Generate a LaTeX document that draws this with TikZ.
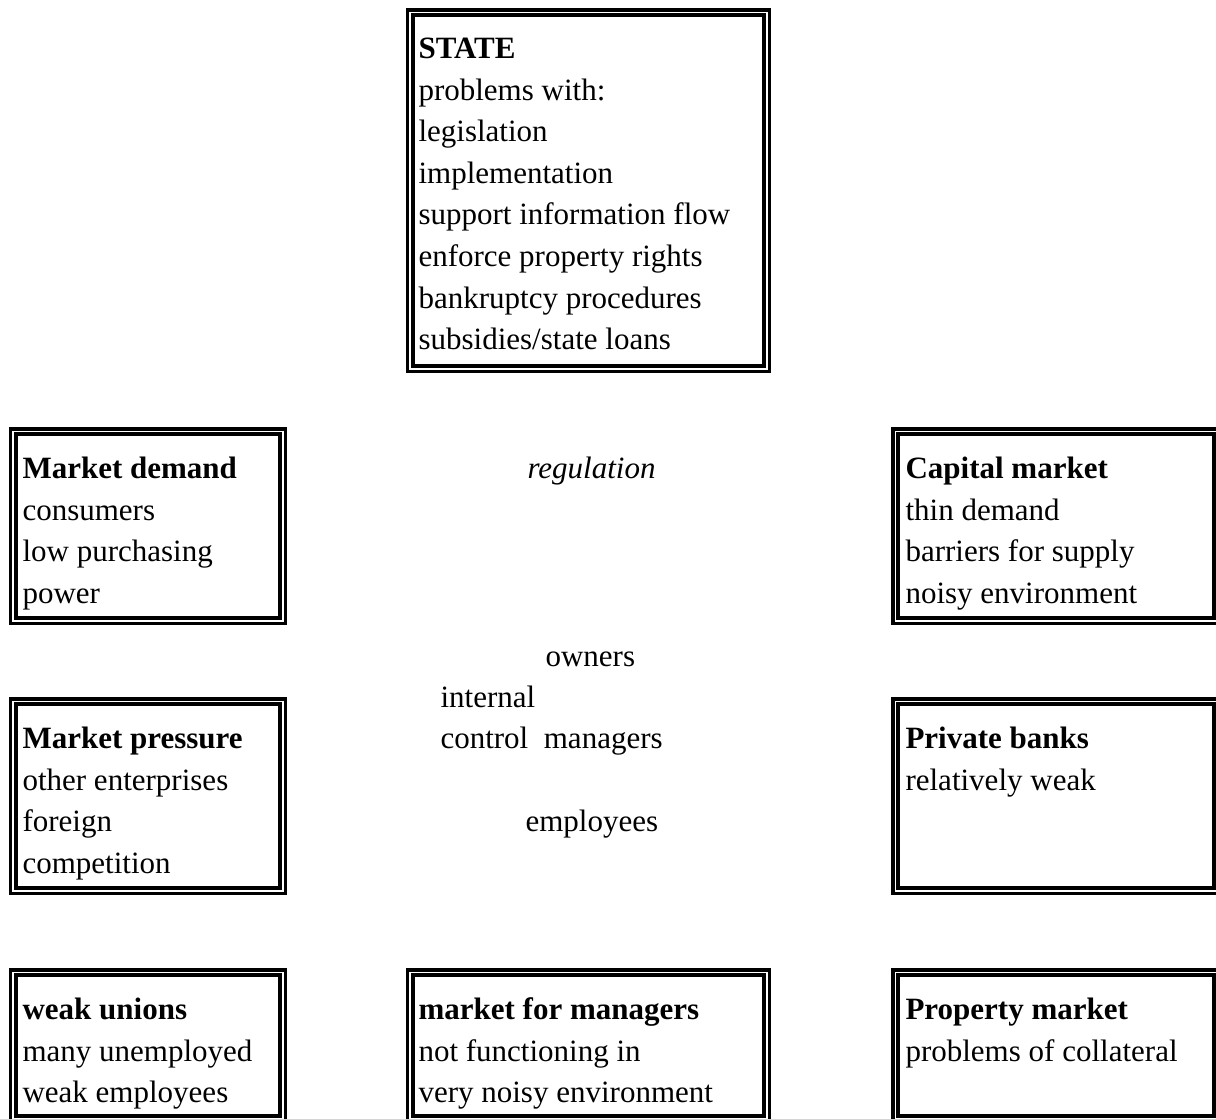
\documentclass[tikz,border=0pt]{standalone}
\usepackage{fontspec}
\setmainfont{Liberation Serif}
\usetikzlibrary{fit}
\tikzset{
	frame/.style={draw, double, line width=1.35pt, double distance=0.66pt, inner sep=0pt},
	txt/.style={inner sep=0pt, anchor=north west, align=left, font=\fontsize{12}{16.1}\selectfont},
	word/.style={inner sep=0pt, anchor=base west, font=\fontsize{12}{16.1}\selectfont}
}
\begin{document}
\begin{tikzpicture}[x=0.387pt, y=-0.387pt]
	\useasboundingbox (0,0) rectangle (1216,1119);
	% frames
	\node[frame, fit={(410.35,12.35) (766.65,368.65)}] (state) {};
	\node[frame, fit={(13.35,431.35) (282.65,620.65)}] (demand) {};
	\node[frame, fit={(895.35,431.35) (1216.65,620.65)}] (capital) {};
	\node[frame, fit={(13.35,701.35) (282.65,890.65)}] (pressure) {};
	\node[frame, fit={(895.35,701.35) (1216.65,890.65)}] (banks) {};
	\node[frame, fit={(13.35,972.35) (282.65,1118.65)}] (unions) {};
	\node[frame, fit={(410.35,972.35) (766.65,1118.65)}] (managers) {};
	\node[frame, fit={(895.35,972.35) (1216.65,1118.65)}] (property) {};
	% box texts
	\node[txt] (statetxt) at (418,28.9) {\strut\textbf{STATE}\\problems with:\\legislation\\implementation\\support information flow\\enforce property rights\\bankruptcy procedures\\subsidies/state loans};
	\node[txt] (demandtxt) at (22,448.9) {\strut\textbf{Market demand}\\consumers\\low purchasing\\power};
	\node[txt] (capitaltxt) at (905,448.9) {\strut\textbf{Capital market}\\thin demand\\barriers for supply\\noisy environment};
	\node[txt] (pressuretxt) at (22,718.9) {\strut\textbf{Market pressure}\\other enterprises\\foreign\\competition};
	\node[txt] (bankstxt) at (905,718.9) {\strut\textbf{Private banks}\\relatively weak};
	\node[txt] (unionstxt) at (22,989.9) {\strut\textbf{weak unions}\\many unemployed\\weak employees};
	\node[txt] (managerstxt) at (418,989.9) {\strut\textbf{market for managers}\\not functioning in\\very noisy environment};
	\node[txt] (propertytxt) at (905,989.9) {\strut\textbf{Property market}\\problems of collateral};
	% free words
	\node[word] (regulation) at (527,478) {\textit{regulation}};
	\node[word] (owners) at (545,666) {owners};
	\node[word] (internal) at (440,707) {internal};
	\node[word] (control) at (440,748) {control\ \ managers};
	\node[word] (employees) at (525,831) {employees};
\end{tikzpicture}
\end{document}
